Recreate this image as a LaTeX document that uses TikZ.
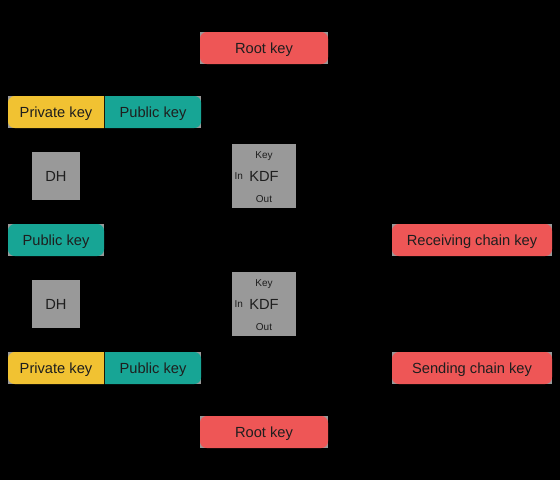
\documentclass[tikz,border=0pt]{standalone}
\usepackage{fontspec}
\setmainfont{Liberation Sans}
\usetikzlibrary{positioning,arrows.meta}

\definecolor{rootred}{HTML}{EE5656}
\definecolor{pubteal}{HTML}{17A595}
\definecolor{privyellow}{HTML}{F1C232}
\definecolor{boxgray}{HTML}{999999}
\definecolor{textdark}{HTML}{1E1E1E}

\tikzset{keyfill/.style n args = {3}{fill=boxgray,
		path picture={\fill[#1, rounded corners=5pt]
			([xshift=-#2]path picture bounding box.south west) rectangle
			([xshift=#3]path picture bounding box.north east);}}}

\begin{document}
\begin{tikzpicture}[x=0.75pt, y=-0.75pt, thick, >=Stealth,
		key/.style = {minimum width=72pt,
				minimum height=24pt,
				inner sep=0pt,
				text depth=0pt,
				text=textdark,
				font=\fontsize{11}{13}\selectfont},
		op/.style = {fill=boxgray,
				inner sep=0pt,
				text depth=0pt,
				text=textdark,
				font=\fontsize{11}{13}\selectfont},
		port/.style = {inner sep=0pt,
				text depth=0pt,
				text=textdark,
				font=\fontsize{7.5}{9}\selectfont}]

	% Background
	\fill[black] (0,0) rectangle (560,480);
	\useasboundingbox (0,0) rectangle (560,480);

	% Root keys
	\node[key, keyfill={rootred}{0pt}{0pt}, minimum width=96pt] (rootA) at (264,48) {Root key};
	\node[key, keyfill={rootred}{0pt}{0pt}, minimum width=96pt] (rootC) at (264,432) {Root key};

	% Key pairs
	\node[key, keyfill={privyellow}{0pt}{8pt}] (privA) at (56,112) {Private key};
	\node[key, keyfill={pubteal}{8pt}{0pt}, right=0pt of privA] (pubA) {Public key};
	\node[key, keyfill={pubteal}{0pt}{0pt}] (pubB) at (56,240) {Public key};
	\node[key, keyfill={privyellow}{0pt}{8pt}] (privC) at (56,368) {Private key};
	\node[key, keyfill={pubteal}{8pt}{0pt}, right=0pt of privC] (pubC) {Public key};

	% Chain keys
	\node[key, keyfill={rootred}{0pt}{0pt}, minimum width=120pt] (recv) at (472,240) {Receiving chain key};
	\node[key, keyfill={rootred}{0pt}{0pt}, minimum width=120pt] (send) at (472,368) {Sending chain key};

	% DH
	\node[op, minimum size=36pt] (dhA) at (56,176) {DH};
	\node[op, minimum size=36pt] (dhB) at (56,304) {DH};

	% KDF
	\node[op, minimum size=48pt] (kdfA) at (264,176) {KDF};
	\node[port] (kdfAkey) at ([yshift=-9pt]kdfA.north) {Key};
	\node[port] (kdfAin) at ([xshift=5.5pt]kdfA.west) {In};
	\node[port] (kdfAout) at ([yshift=7.5pt]kdfA.south) {Out};
	\node[op, minimum size=48pt] (kdfB) at (264,304) {KDF};
	\node[port] (kdfBkey) at ([yshift=-9pt]kdfB.north) {Key};
	\node[port] (kdfBin) at ([xshift=5.5pt]kdfB.west) {In};
	\node[port] (kdfBout) at ([yshift=7.5pt]kdfB.south) {Out};

	% Connectors
	\draw[->, black] (rootA) -- (kdfA);
	\draw[->, black] (privA.south -| dhA) -- (dhA);
	\draw[->, black] (pubB) -- (dhA);
	\draw[->, black] (dhA) -- (kdfA);
	\draw[->, black] (kdfA) -- (kdfB);
	\draw[->, black] (kdfA.south) |- (recv.west);
	\draw[->, black] (pubB) -- (dhB);
	\draw[->, black] (privC.north -| dhB) -- (dhB);
	\draw[->, black] (dhB) -- (kdfB);
	\draw[->, black] (kdfB.south) |- (send.west);
	\draw[->, black] (kdfB) -- (rootC);

\end{tikzpicture}
\end{document}
